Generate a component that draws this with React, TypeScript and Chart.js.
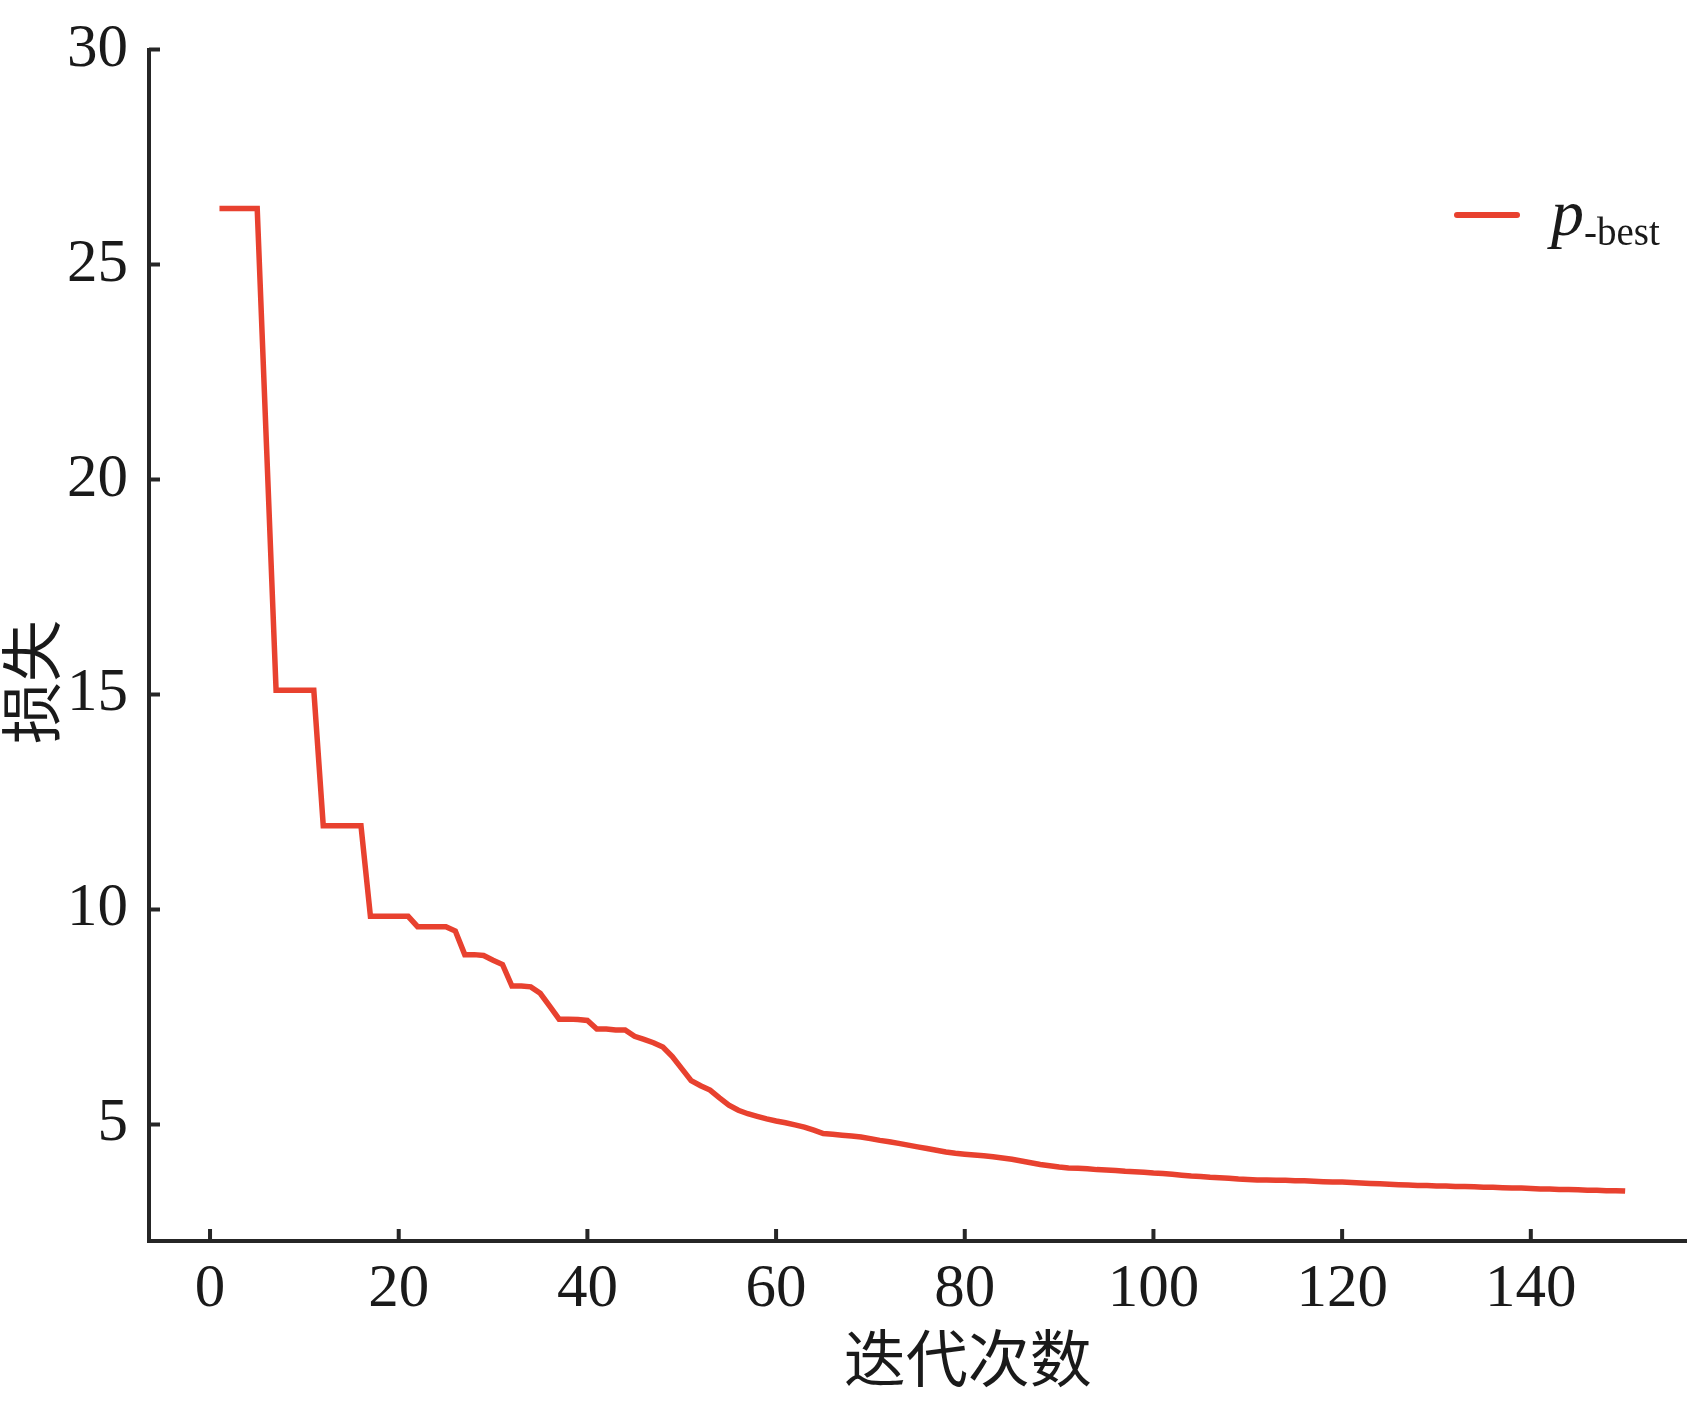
import React, { useEffect, useRef } from 'react';
import { Chart, registerables } from 'chart.js';

Chart.register(...registerables);

// Loss of the p-best particle per iteration (iterations 1..150)
const lossValues: number[] = [
  26.3, 26.3, 26.3, 26.3, 26.3, 20.7, 15.1, 15.1, 15.1, 15.1,
  15.1, 11.95, 11.95, 11.95, 11.95, 11.95, 9.84, 9.84, 9.84, 9.84,
  9.84, 9.6, 9.6, 9.6, 9.6, 9.5, 8.95, 8.95, 8.93, 8.82,
  8.72, 8.22, 8.22, 8.2, 8.05, 7.75, 7.45, 7.45, 7.44, 7.42,
  7.22, 7.22, 7.2, 7.2, 7.05, 6.98, 6.9, 6.8, 6.58, 6.3,
  6.02, 5.9, 5.8, 5.62, 5.45, 5.33, 5.25, 5.19, 5.13, 5.08,
  5.04, 4.99, 4.94, 4.87, 4.79, 4.77, 4.75, 4.73, 4.71, 4.67,
  4.63, 4.6, 4.56, 4.52, 4.48, 4.44, 4.4, 4.36, 4.33, 4.31,
  4.29, 4.27, 4.25, 4.22, 4.19, 4.15, 4.11, 4.07, 4.04, 4.01,
  3.99, 3.98, 3.97, 3.95, 3.94, 3.93, 3.91, 3.9, 3.89, 3.87,
  3.86, 3.84, 3.82, 3.8, 3.79, 3.77, 3.76, 3.75, 3.73, 3.72,
  3.71, 3.71, 3.7, 3.7, 3.69, 3.69, 3.68, 3.67, 3.66, 3.66,
  3.65, 3.64, 3.63, 3.62, 3.61, 3.6, 3.59, 3.58, 3.58, 3.57,
  3.57, 3.56, 3.56, 3.55, 3.54, 3.54, 3.53, 3.52, 3.52, 3.51,
  3.5, 3.5, 3.49, 3.49, 3.48, 3.47, 3.47, 3.46, 3.46, 3.45,
];
const iterations: number[] = lossValues.map((_, i) => i + 1);

const xTickValues: number[] = [0, 20, 40, 60, 80, 100, 120, 140];
const yTickValues: number[] = [5, 10, 15, 20, 25, 30];

const seriesMain = 'p';
const seriesSub = '-best';
const xTitle = '迭代次数';
const yTitle = '损失';

const LINE_COLOR = '#E8412F';
const AXIS_COLOR = '#262626';
const SERIF = '"Liberation Serif", "Times New Roman", serif';
const CJK = '"Noto Sans CJK SC", sans-serif';

export default function App() {
  const ref = useRef<HTMLCanvasElement>(null);

  useEffect(() => {
    document.body.style.margin = '0';
    const canvas = ref.current;
    if (!canvas) return;

    const decor = {
      id: 'decor',
      afterDraw(chart: any) {
        const ctx = chart.ctx as CanvasRenderingContext2D;
        const { left, right, bottom } = chart.chartArea;
        const xs = chart.scales.x;
        const ys = chart.scales.y;
        ctx.save();
        // inward tick marks
        ctx.strokeStyle = AXIS_COLOR;
        ctx.lineWidth = 4;
        ctx.beginPath();
        xs.ticks.forEach((t: any) => {
          const px = xs.getPixelForValue(t.value);
          ctx.moveTo(px, bottom);
          ctx.lineTo(px, bottom - 12);
        });
        ys.ticks.forEach((t: any) => {
          const py = ys.getPixelForValue(t.value);
          ctx.moveTo(left, py);
          ctx.lineTo(left + 11, py);
        });
        ctx.stroke();

        // axis titles
        ctx.fillStyle = '#1a1a1a';
        ctx.font = `62px ${CJK}`;
        ctx.textAlign = 'center';
        ctx.textBaseline = 'middle';
        ctx.fillText(xTitle, xs.getPixelForValue(80) + 3, 1358);
        ctx.save();
        ctx.translate(31, 682);
        ctx.rotate(-Math.PI / 2);
        ctx.fillText(yTitle, 0, 0);
        ctx.restore();

        // legend
        const ds = chart.data.datasets[0];
        const ly = 215;
        const lx0 = right - 229;
        ctx.strokeStyle = ds.borderColor;
        ctx.lineWidth = 6;
        ctx.lineCap = 'round';
        ctx.beginPath();
        ctx.moveTo(lx0, ly);
        ctx.lineTo(lx0 + 60, ly);
        ctx.stroke();
        ctx.fillStyle = '#1a1a1a';
        ctx.textAlign = 'left';
        ctx.textBaseline = 'alphabetic';
        ctx.font = `italic 66px ${SERIF}`;
        ctx.fillText(seriesMain, lx0 + 94, ly + 20);
        const pw = ctx.measureText(seriesMain).width;
        ctx.font = `39px ${SERIF}`;
        ctx.fillText(seriesSub, lx0 + 94 + pw, ly + 30);
        ctx.restore();
      },
    };

    const chart = new Chart(canvas, {
      type: 'line',
      data: {
        datasets: [
          {
            label: seriesMain + seriesSub,
            data: iterations.map((x, i) => ({ x, y: lossValues[i] })),
            borderColor: LINE_COLOR,
            borderWidth: 5.5,
            pointRadius: 0,
            tension: 0,
            fill: false,
            borderJoinStyle: 'miter',
          },
        ],
      },
      options: {
        responsive: false,
        animation: false,
        layout: { padding: { top: 49.5, right: 3, left: 0, bottom: 0 } },
        plugins: {
          legend: { display: false },
          tooltip: { enabled: false },
          title: { display: false },
        },
        scales: {
          x: {
            type: 'linear',
            min: -6.47,
            max: 156.45,
            afterBuildTicks: (scale: any) => {
              scale.ticks = xTickValues.map((v) => ({ value: v }));
            },
            afterFit: (scale: any) => {
              scale.height = 160;
              scale.paddingLeft = 0;
              scale.paddingRight = 0;
            },
            grid: { display: false, drawTicks: false },
            border: { display: true, color: AXIS_COLOR, width: 4 },
            ticks: {
              padding: 12,
              color: '#1a1a1a',
              font: { family: SERIF, size: 61 },
              maxRotation: 0,
              autoSkip: false,
            },
          },
          y: {
            type: 'linear',
            min: 2.29,
            max: 30,
            afterBuildTicks: (scale: any) => {
              scale.ticks = yTickValues.map((v) => ({ value: v }));
            },
            afterFit: (scale: any) => {
              scale.width = 149;
              scale.paddingTop = 0;
              scale.paddingBottom = 0;
            },
            grid: { display: false, drawTicks: false },
            border: { display: true, color: AXIS_COLOR, width: 4 },
            ticks: {
              padding: 21,
              color: '#1a1a1a',
              font: { family: SERIF, size: 61 },
              autoSkip: false,
            },
          },
        },
      },
      plugins: [decor],
    } as any);

    return () => {
      chart.destroy();
    };
  }, []);

  return (
    <div style={{ width: 1689, height: 1401, background: '#ffffff' }}>
      <canvas ref={ref} width={1689} height={1401} style={{ display: 'block' }} />
    </div>
  );
}
